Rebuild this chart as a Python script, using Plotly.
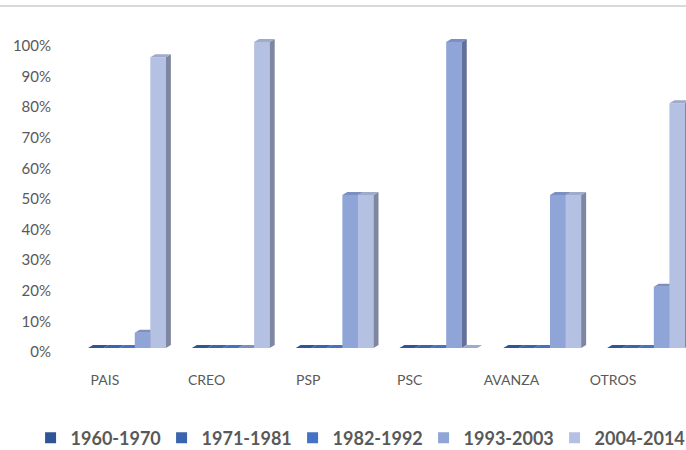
import plotly.graph_objects as go

# ---- data ----
categories = ["PAIS", "CREO", "PSP", "PSC", "AVANZA", "OTROS"]
series_names = ["1960-1970", "1971-1981", "1982-1992", "1993-2003", "2004-2014"]
s_1960_1970 = [0, 0, 0, 0, 0, 0]
s_1971_1981 = [0, 0, 0, 0, 0, 0]
s_1982_1992 = [0, 0, 0, 0, 0, 0]
s_1993_2003 = [0.05, 0.00, 0.50, 1.00, 0.50, 0.20]
s_2004_2014 = [0.95, 1.00, 0.50, 0.00, 0.50, 0.80]
series_values = [s_1960_1970, s_1971_1981, s_1982_1992, s_1993_2003, s_2004_2014]
y_ticks = [i / 10 for i in range(11)]

# ---- style ----
front_colors = ["#2F5597", "#3A64AD", "#4472C4", "#8FA5D7", "#B5C1E3"]
side_colors = ["#1F3A68", "#284677", "#2F4F88", "#62709A", "#7E879F"]
top_colors = ["#3F63A5", "#4A72B8", "#5A82CC", "#7B8FC2", "#A0ABCB"]
bar_w = 0.15
dx = 0.048   # depth offset (x units)
dy = 0.0098  # depth offset (y units)
n_series = len(series_names)

fig = go.Figure()

for s, (name, vals) in enumerate(zip(series_names, series_values)):
    off = (s - (n_series - 1) / 2) * bar_w
    fx, fy, sx, sy, tx, ty = [], [], [], [], [], []
    for i, v in enumerate(vals):
        x0 = i + off - bar_w / 2
        x1 = i + off + bar_w / 2
        if v > 0:
            fx += [x0, x1, x1, x0, x0, None]
            fy += [0, 0, v, v, 0, None]
            sx += [x1, x1 + dx, x1 + dx, x1, x1, None]
            sy += [0, dy, v + dy, v, 0, None]
        tx += [x0, x1, x1 + dx, x0 + dx, x0, None]
        ty += [v, v, v + dy, v + dy, v, None]
    if fx:
        fig.add_trace(go.Scatter(x=fx, y=fy, fill="toself", mode="none",
                                 fillcolor=front_colors[s], showlegend=False,
                                 hoverinfo="skip"))
        fig.add_trace(go.Scatter(x=sx, y=sy, fill="toself", mode="none",
                                 fillcolor=side_colors[s], showlegend=False,
                                 hoverinfo="skip"))
    fig.add_trace(go.Scatter(x=tx, y=ty, fill="toself", mode="none",
                             fillcolor=top_colors[s] if any(vals) else front_colors[s],
                             showlegend=False, hoverinfo="skip"))

# legend entries
for s, name in enumerate(series_names):
    fig.add_trace(go.Scatter(x=[None], y=[None], mode="markers", name=name,
                             marker=dict(symbol="square", size=11, color=front_colors[s])))

# perspective shift of category labels relative to bar groups
label_pos = [i - 0.212 - 0.0212 * i for i in range(len(categories))]

fig.update_layout(
    width=686, height=450,
    margin=dict(l=60, r=0, t=25, b=88, autoexpand=False),
    paper_bgcolor="white", plot_bgcolor="white",
    font=dict(family="Lato", color="#595959", size=14),
    xaxis=dict(range=[-0.645, 5.385], tickvals=label_pos, ticktext=categories,
               showgrid=False, zeroline=False, showline=False, ticks="",
               ticklabelstandoff=8, tickfont=dict(size=14, color="#595959"),
               automargin=False),
    yaxis=dict(range=[-0.0458, 1.0556], tickvals=y_ticks, tickformat=".0%",
               showgrid=False, zeroline=False, showline=False, ticks="",
               ticklabelshift=4, ticklabelstandoff=8,
               tickfont=dict(size=15, color="#595959"), automargin=False),
    legend=dict(orientation="h", x=-0.047, xanchor="left", y=-0.2255, yanchor="middle",
                font=dict(family="Lato", size=18, color="#595959", weight="bold"),
                entrywidth=86, entrywidthmode="pixels", itemclick=False),
    shapes=[dict(type="line", xref="paper", yref="paper",
                 x0=-60 / 626, x1=1, y0=1 + 19 / 337, y1=1 + 19 / 337,
                 line=dict(color="#D9D9D9", width=2))],
)

fig.write_html("out.html", config={"displayModeBar": False},
               post_script="document.body.style.margin='0';")
